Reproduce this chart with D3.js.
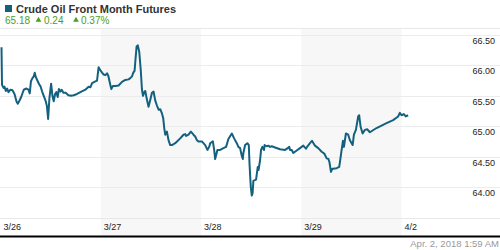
<!DOCTYPE html>
<html>
<head>
<meta charset="utf-8">
<script src="https://cdn.jsdelivr.net/npm/d3@7"></script>
<style>
  body { margin: 0; background: #fff; }
  svg { display: block; font-family: "Liberation Sans", Arial, sans-serif; }
</style>
</head>
<body>
<svg width="500" height="250"></svg>
<script>
// hours since 3/26 00:00 on the trading calendar (4/2 starts at 96)
const hours = [
  0.24, 0.36, 0.72, 0.96, 1.27, 1.60, 1.91, 2.39, 2.87, 3.35, 3.82, 4.13, 4.47, 4.95, 5.57,
  6.21, 6.69, 7.00, 7.29, 7.65, 7.96, 8.20, 8.44, 8.77, 9.25, 9.56, 9.97, 10.35, 10.83, 11.11,
  11.40, 11.71, 12.12, 12.43, 12.74, 13.07, 13.38, 13.69, 13.98, 14.34, 14.65, 15.06, 15.61,
  16.25, 16.90, 17.52, 18.33, 19.12, 20.32, 21.10, 21.51, 21.92, 22.47, 23.11, 23.49, 23.90,
  24.31, 24.69, 25.10, 25.50, 25.81, 26.12, 26.53, 26.89, 27.49, 28.27, 29.09, 29.88, 30.66,
  31.07, 31.48, 31.79, 32.10, 32.27, 32.58, 32.86, 33.22, 33.58, 33.87, 34.11, 34.42, 34.66,
  35.01, 35.44, 35.85, 36.26, 36.64, 37.05, 37.45, 37.88, 38.24, 38.60, 38.96, 39.20, 39.44,
  39.84, 40.22, 40.63, 41.04, 41.83, 43.02, 43.81, 44.22, 44.45, 45.00, 45.58, 46.20, 46.61,
  47.01, 47.39, 48.21, 49.00, 49.54, 50.02, 50.19, 50.84, 51.15, 51.39, 51.93, 52.58, 53.37,
  54.01, 54.56, 55.38, 55.93, 56.57, 56.95, 57.36, 57.77, 58.01, 58.15, 58.56, 59.10, 59.44,
  59.63, 59.92, 60.16, 60.35, 60.54, 61.18, 61.59, 61.78, 62.14, 62.38, 62.69, 63.10, 63.22,
  63.69, 64.12, 64.53, 64.94, 65.73, 66.92, 68.12, 68.76, 69.14, 69.31, 69.72, 70.10, 70.91,
  71.70, 72.49, 73.13, 73.49, 74.09, 74.57, 75.29, 76.07, 76.89, 77.51, 78.08, 78.51, 78.75,
  79.11, 79.42, 79.66, 80.47, 81.09, 81.26, 81.67, 81.98, 82.22, 82.69, 83.24, 83.65, 84.30,
  84.61, 85.08, 85.63, 85.87, 86.21, 86.69, 87.24, 87.78, 88.43, 90.03, 92.42, 94.00, 95.19,
  95.60, 96.01, 96.56, 97.03, 97.58
];
const prices = [
  66.30, 65.68, 65.63, 65.65, 65.58, 65.62, 65.56, 65.60, 65.59, 65.53, 65.41, 65.37, 65.41, 65.48, 65.60,
  65.62, 65.60, 65.54, 65.74, 65.79, 65.82, 65.88, 65.81, 65.76, 65.69, 65.66, 65.57, 65.50, 65.41, 65.33,
  65.12, 65.46, 65.70, 65.50, 65.41, 65.53, 65.56, 65.48, 65.61, 65.57, 65.60, 65.55, 65.55,
  65.51, 65.50, 65.51, 65.53, 65.56, 65.60, 65.65, 65.64, 65.71, 65.73, 65.75, 65.97, 65.92,
  65.88, 65.85, 65.84, 65.87, 65.83, 65.73, 65.61, 65.66, 65.66, 65.67, 65.73, 65.76, 65.77,
  65.79, 65.82, 65.88, 65.91, 66.06, 66.31, 66.33, 66.22, 65.92, 65.60, 65.50, 65.56, 65.58,
  65.45, 65.32, 65.43, 65.55, 65.57, 65.42, 65.34, 65.27, 65.28, 65.22, 65.13, 64.97, 64.86,
  64.91, 64.77, 64.69, 64.69, 64.72, 64.80, 64.86, 64.87, 64.84, 64.86, 64.91, 64.86, 64.83,
  64.77, 64.75, 64.75, 64.69, 64.61, 64.67, 64.72, 64.75, 64.61, 64.46, 64.61, 64.61, 64.64,
  64.66, 64.79, 64.88, 64.80, 64.72, 64.66, 64.64, 64.51, 64.46, 64.56, 64.69, 64.72, 64.69,
  64.36, 64.00, 63.86, 63.90, 64.10, 64.12, 64.33, 64.28, 64.44, 64.61, 64.66, 64.61, 64.69,
  64.67, 64.68, 64.66, 64.67, 64.65, 64.62, 64.61, 64.64, 64.66, 64.61, 64.61, 64.56, 64.60,
  64.64, 64.68, 64.63, 64.67, 64.72, 64.76, 64.68, 64.64, 64.58, 64.55, 64.47, 64.46, 64.41,
  64.25, 64.30, 64.30, 64.31, 64.33, 64.41, 64.61, 64.76, 64.66, 64.88, 64.86, 64.77, 64.69,
  64.86, 64.94, 65.16, 65.18, 64.99, 64.88, 64.94, 64.95, 64.90, 64.97, 65.05, 65.10, 65.16,
  65.22, 65.18, 65.20, 65.16, 65.18
];
const days = ["3/26", "3/27", "3/28", "3/29", "4/2"];
const yTicks = [64.00, 64.50, 65.00, 65.50, 66.00, 66.50];

const title = "Crude Oil Front Month Futures";
const last = "65.18", change = "0.24", changePct = "0.37%";
const stamp = "Apr. 2, 2018 1:59 AM";

const W = 500;
const lineColor = "#14617f";
const green = "#4a9e26";

const svg = d3.select("svg");

const x = d3.scaleLinear().domain([0, 96]).range([0.5, 401.5]);
const y = d3.scaleLinear().domain([64, 66.5]).range([187, 35]);

// alternating day bands
svg.selectAll("rect.band")
  .data(days.map((d, i) => i).filter(i => i % 2 === 1))
  .enter().append("rect")
    .attr("class", "band")
    .attr("x", i => x(i * 24))
    .attr("width", i => x((i + 1) * 24) - x(i * 24))
    .attr("y", 29)
    .attr("height", 207)
    .attr("fill", "#f7f7f7");

// header separator
svg.append("line")
  .attr("x1", 0).attr("x2", W).attr("y1", 28.5).attr("y2", 28.5)
  .attr("stroke", "#e8e8e8");

// gridlines + right-side labels
const grid = svg.append("g");
grid.selectAll("line")
  .data(yTicks)
  .enter().append("line")
    .attr("x1", 0).attr("x2", W)
    .attr("y1", d => Math.round(y(d)) + 0.5)
    .attr("y2", d => Math.round(y(d)) + 0.5)
    .attr("stroke", "#ececec");
grid.selectAll("text")
  .data(yTicks)
  .enter().append("text")
    .attr("x", 495)
    .attr("y", d => y(d) + 9)
    .attr("text-anchor", "end")
    .attr("font-size", 9)
    .attr("fill", "#222")
    .text(d => d.toFixed(2));

// x axis line and day labels
svg.append("line")
  .attr("x1", 0).attr("x2", W).attr("y1", 218.5).attr("y2", 218.5)
  .attr("stroke", "#e8e8e8");
svg.selectAll("text.day")
  .data(days)
  .enter().append("text")
    .attr("class", "day")
    .attr("x", (d, i) => x(i * 24) + 3)
    .attr("y", 230)
    .attr("font-size", 9)
    .attr("fill", "#222")
    .text(d => d);

svg.append("line")
  .attr("x1", 0).attr("x2", W).attr("y1", 236.5).attr("y2", 236.5)
  .attr("stroke", "#000").attr("stroke-width", 2);

svg.append("text")
  .attr("x", 499).attr("y", 247)
  .attr("text-anchor", "end")
  .attr("font-size", 9.5)
  .attr("fill", "#999")
  .text(stamp);

// price line
const pts = hours.map((h, i) => [h, prices[i]]);
svg.append("path")
  .datum(pts)
  .attr("fill", "none")
  .attr("stroke", lineColor)
  .attr("stroke-width", 2)
  .attr("stroke-linejoin", "round")
  .attr("d", d3.line().x(d => x(d[0])).y(d => y(d[1])));

// header
svg.append("rect")
  .attr("x", 5).attr("y", 5).attr("width", 7).attr("height", 7)
  .attr("fill", lineColor);
svg.append("text")
  .attr("x", 16).attr("y", 13)
  .attr("font-size", 11).attr("font-weight", "bold")
  .attr("fill", "#333")
  .text(title);

const hdr = svg.append("g").attr("fill", green).attr("font-size", 10);
hdr.append("text").attr("x", 5).attr("y", 24).text(last);
const tri = d3.symbol().type(d3.symbolTriangle).size(14);
[[38.5, 44, change], [76, 81, changePct]].forEach(([tx, lx, s]) => {
  hdr.append("path").attr("d", tri).attr("transform", `translate(${tx},20)`);
  hdr.append("text").attr("x", lx).attr("y", 24).text(s);
});
</script>
</body>
</html>
